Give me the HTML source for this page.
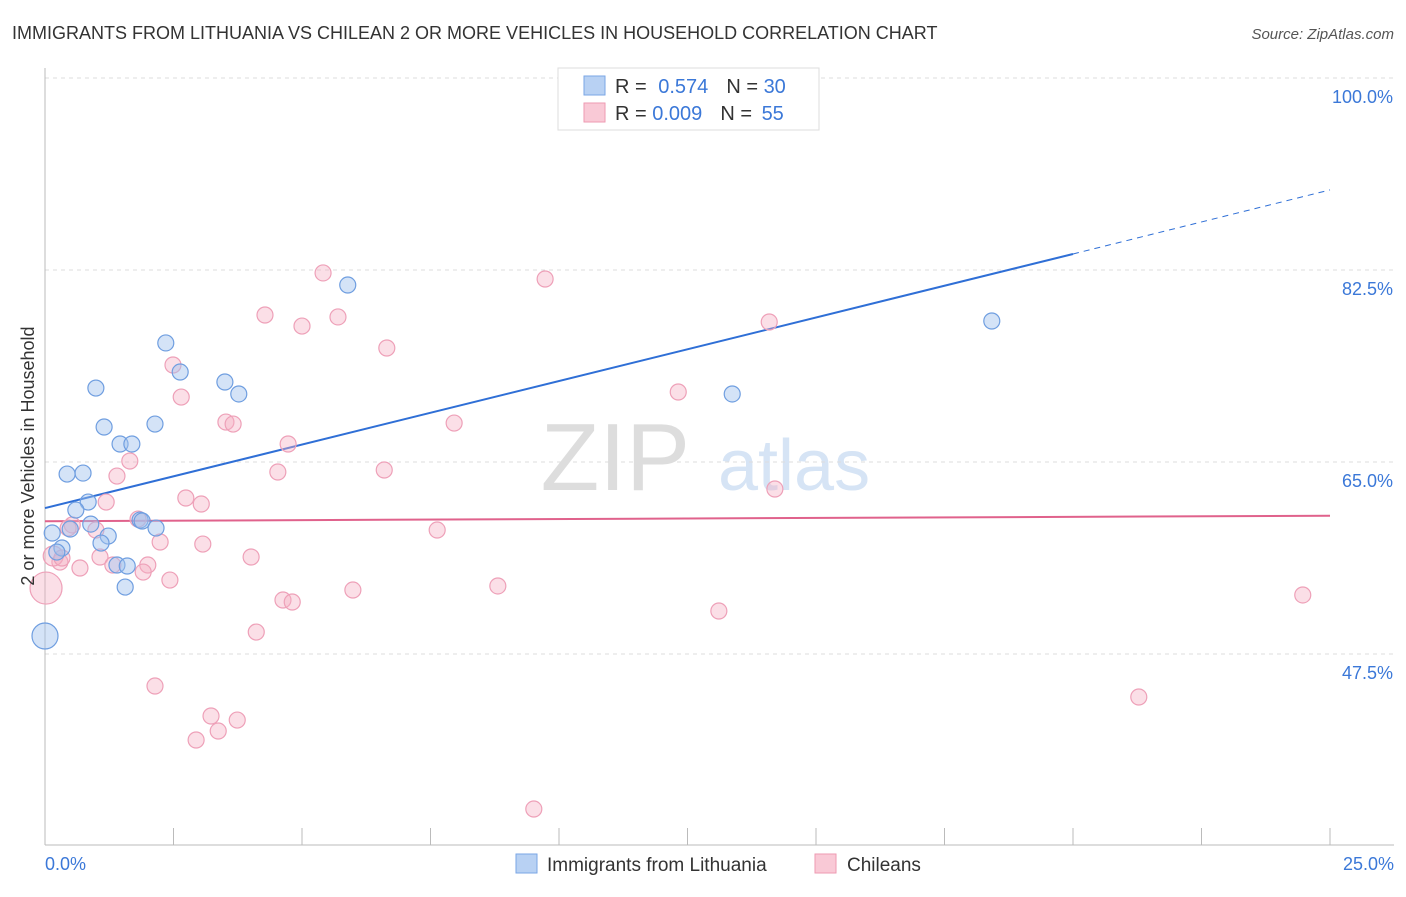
<!DOCTYPE html>
<html><head><meta charset="utf-8"><style>
body{margin:0;background:#fff;font-family:"Liberation Sans",sans-serif;}
svg text{font-family:"Liberation Sans",sans-serif;}
</style></head><body>
<svg id="chart" width="1406" height="892">
<text x="12" y="39" font-size="18" fill="#333">IMMIGRANTS FROM LITHUANIA VS CHILEAN 2 OR MORE VEHICLES IN HOUSEHOLD CORRELATION CHART</text>
<text x="1394" y="39" font-size="15" fill="#555" font-style="italic" text-anchor="end">Source: ZipAtlas.com</text>
<text x="690" y="490" font-size="96" fill="#ddd" font-family="Liberation Serif" text-anchor="end">ZIP</text>
<text x="718" y="490" font-size="72" fill="#d6e4f5">atlas</text>
<g id="grid"></g>
<g id="axes"></g>
<g id="lines"></g>
<g id="pts"></g>
<text x="34" y="456" font-size="18" fill="#333" transform="rotate(-90 34 456)" text-anchor="middle">2 or more Vehicles in Household</text>
<g>
<rect x="558" y="68" width="261" height="62" fill="#fff" stroke="#ddd"/>
<rect x="584" y="76" width="21" height="19" fill="#b8d1f3" stroke="#7aa6e6"/>
<rect x="584" y="103" width="21" height="19" fill="#f9c9d6" stroke="#ee9ab2"/>
<text x="615" y="93" font-size="20" fill="#333">R = <tspan fill="#3b78d8" dx="6">0.574</tspan><tspan fill="#333" dx="18">N = </tspan><tspan fill="#3b78d8">30</tspan></text>
<text x="615" y="120" font-size="20" fill="#333">R = <tspan fill="#3b78d8">0.009</tspan><tspan fill="#333" dx="18">N = </tspan><tspan fill="#3b78d8" dx="4">55</tspan></text>
</g>
<g>
<rect x="516" y="854" width="21" height="19" fill="#b8d1f3" stroke="#7aa6e6"/>
<text x="547" y="871" font-size="19" fill="#333">Immigrants from Lithuania</text>
<rect x="815" y="854" width="21" height="19" fill="#f9c9d6" stroke="#ee9ab2"/>
<text x="847" y="871" font-size="19" fill="#333">Chileans</text>
</g>
</svg>
<script>
const xTicks=[0,2.5,5,7.5,10,12.5,15,17.5,20,22.5,25];
const yTicks=[47.5,65.0,82.5,100.0];
const yTickLabels=["47.5%","65.0%","82.5%","100.0%"];
const xEndLabels=["0.0%","25.0%"];
const blueX=[5.89,2.35,2.63,0.99,3.50,3.77,2.14,1.15,1.46,1.69,0.43,0.74,0.84,0.60,0.89,1.85,1.89,2.16,0.49,0.14,1.23,1.09,0.33,0.23,1.40,1.60,1.56,0,18.42,13.37];
const blueY=[81.13,75.85,73.20,71.74,72.29,71.20,68.46,68.19,66.64,66.64,63.90,63.99,61.35,60.62,59.34,59.71,59.62,58.98,58.89,58.53,58.25,57.61,57.16,56.79,55.61,55.52,53.60,49.14,77.85,71.20];
const blueR=[8,8,8,8,8,8,8,8,8,8,8,8,8,8,8,8,8,8,8,8,8,8,8,8,8,8,8,13,8,8];
const pinkX=[5.41,9.73,4.28,5.00,5.70,6.65,2.49,2.65,3.52,3.66,4.73,1.65,1.40,4.53,6.60,7.96,12.32,14.09,14.20,2.74,3.04,1.19,0.53,0.45,0.99,1.81,2.24,3.07,4.01,1.07,1.32,2.00,1.91,0.68,0.29,2.43,0.02,4.63,4.81,5.99,8.81,7.63,13.11,24.47,4.11,2.14,3.23,3.74,3.37,2.94,9.51,21.28,0.16,0.33];
const pinkY=[82.23,81.68,78.40,77.39,78.22,75.39,73.84,70.92,68.64,68.46,66.64,65.09,63.72,64.09,64.27,68.55,71.38,77.76,62.54,61.72,61.17,61.35,59.26,58.98,58.80,59.80,57.71,57.52,56.34,56.34,55.61,55.61,54.97,55.34,55.88,54.24,53.51,52.42,52.24,53.33,53.70,58.80,51.42,52.88,49.50,44.58,41.85,41.48,40.48,39.66,33.37,43.58,56.43,56.25];
const pinkR=[8,8,8,8,8,8,8,8,8,8,8,8,8,8,8,8,8,8,8,8,8,8,8,8,8,8,8,8,8,8,8,8,8,8,8,8,16,8,8,8,8,8,8,8,8,8,8,8,8,8,8,8,10,8];
const blueFit=[60.8,83.96,89.8]; // at x=0, 20, 25
const pinkFit=[59.6,60.1]; // at x=0, 25
const X=v=>45+v/25*1285;
const Y=v=>78+(100-v)/17.5*192;
const NS="http://www.w3.org/2000/svg";
function mk(parent,tag,attrs){const e=document.createElementNS(NS,tag);for(const k in attrs)e.setAttribute(k,attrs[k]);document.getElementById(parent).appendChild(e);return e;}
yTicks.forEach((t,i)=>{
 const l=mk('grid','line',{x1:45,x2:1394,y1:Y(t),y2:Y(t),stroke:'#ddd','stroke-dasharray':'4,4'});
 
 
 const tx=mk('grid','text',{x:1393,y:Y(t)+25,'font-size':18,fill:'#3b78d8','text-anchor':'end'});
 tx.textContent=yTickLabels[i];
 
 
});
const ax=mk('axes','line',{x1:45,x2:45,y1:68,y2:845,stroke:'#bbb'});


const bx=mk('axes','line',{x1:45,x2:1394,y1:845,y2:845,stroke:'#bbb'});


xTicks.forEach(t=>{
 const l=mk('axes','line',{x1:X(t),x2:X(t),y1:828,y2:845,stroke:'#bbb'});
 
 
});
[[0,'start',45],[1,'end',1394]].forEach(([i,a,x])=>{
 const tx=mk('axes','text',{x:x,y:870,'font-size':18,fill:'#3b78d8','text-anchor':a});
 tx.textContent=xEndLabels[i];
 
 
});
const b1=mk('lines','line',{x1:X(0),y1:Y(blueFit[0]),x2:X(20),y2:Y(blueFit[1]),stroke:'#2f6fd6','stroke-width':2});


const b2=mk('lines','line',{x1:X(20),y1:Y(blueFit[1]),x2:X(25),y2:Y(blueFit[2]),stroke:'#2f6fd6','stroke-width':1,'stroke-dasharray':'6,5'});


const p1=mk('lines','line',{x1:X(0),y1:Y(pinkFit[0]),x2:X(25),y2:Y(pinkFit[1]),stroke:'#e0628c','stroke-width':2});


pinkX.forEach((v,i)=>{
 const c=mk('pts','circle',{cx:X(v),cy:Y(pinkY[i]),r:pinkR[i],fill:'rgba(246,176,196,0.4)',stroke:'#eea0b8','stroke-width':1.2});
 
 
});
blueX.forEach((v,i)=>{
 const c=mk('pts','circle',{cx:X(v),cy:Y(blueY[i]),r:blueR[i],fill:'rgba(160,192,238,0.45)',stroke:'#6f9ee0','stroke-width':1.2});
 
 
});
</script>
</body></html>
